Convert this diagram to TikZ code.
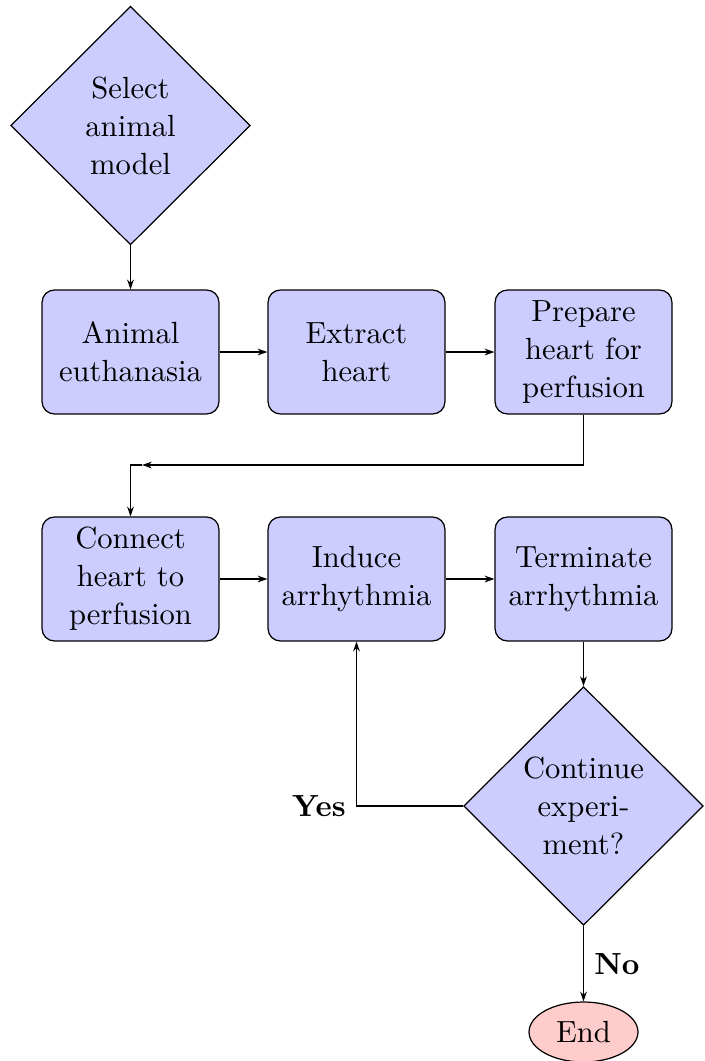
\documentclass[tikz,border=0pt]{standalone}
\usetikzlibrary{shapes.geometric,arrows.meta}
\begin{document}
\begin{tikzpicture}[x=0.3268pt, y=-0.3268pt,
  every node/.style={font=\fontsize{10}{12.4}\selectfont},
  stepbox/.style={draw, rectangle, rounded corners=4pt, fill=blue!20, align=center,
    minimum width=57.8pt, minimum height=40.5pt, inner sep=1pt},
  decide/.style={draw, diamond, fill=blue!20, align=center,
    minimum width=78.3pt, minimum height=78pt, inner sep=1pt},
  endnode/.style={draw, ellipse, fill=red!20, minimum width=35.6pt, minimum height=19.6pt, inner sep=1pt},
  arr/.style={-{Stealth[length=3.2pt,width=2.2pt]}},
  lbl/.style={font=\fontsize{10}{12.4}\selectfont\bfseries}
]
\useasboundingbox (0,0) rectangle (704,1061);

\node[decide] (select) at (130.5,125.5) {Select\\animal\\model};
\node[stepbox] (euth) at (130.5,352) {Animal\\euthanasia};
\node[stepbox] (extract) at (356.5,352) {Extract\\heart};
\node[stepbox] (prepare) at (583.5,352) {Prepare\\heart for\\perfusion};
\node[stepbox] (connect) at (130.5,579) {Connect\\heart to\\perfusion};
\node[stepbox] (induce) at (356.5,579) {Induce\\arrhythmia};
\node[stepbox] (terminate) at (583.5,579) {Terminate\\arrhythmia};
\node[decide] (cont) at (583.5,806) {Continue\\experi-\\ment?};
\node[endnode] (end) at (583.5,1032) {End};

\coordinate (mid) at (142,465);

\draw[arr] (select.south) -- (euth.north);
\draw[arr] (euth.east) -- (extract.west);
\draw[arr] (extract.east) -- (prepare.west);
\draw[arr] (prepare.south) |- (mid);
\draw[arr] (mid) -| (connect.north);
\draw[arr] (connect.east) -- (induce.west);
\draw[arr] (induce.east) -- (terminate.west);
\draw[arr] (terminate.south) -- (cont.north);
\draw[arr] (cont.west) -| node[pos=0.5, left, lbl] {Yes} (induce.south);
\draw[arr] (cont.south) -- node[right, lbl] {No} (end.north);
\end{tikzpicture}
\end{document}
